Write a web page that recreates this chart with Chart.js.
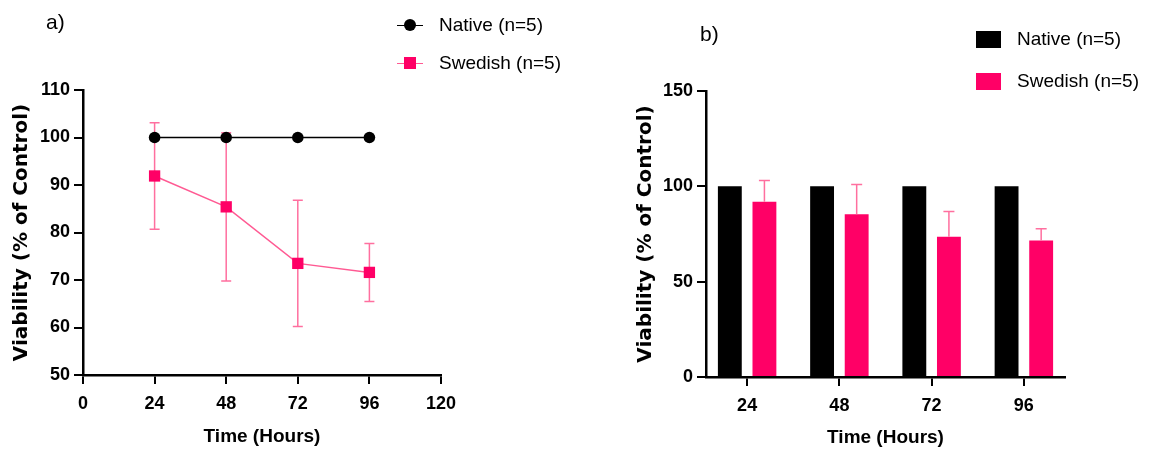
<!DOCTYPE html>
<html>
<head>
<meta charset="utf-8">
<script src="https://cdn.jsdelivr.net/npm/chart.js@4.4.0/dist/chart.umd.min.js"></script>
<style>
  body { margin: 0; background: #fff; }
  #wrap { position: relative; width: 1153px; height: 452px; overflow: hidden;
          font-family: "Liberation Sans", Arial, sans-serif; color: #000; }
  canvas { position: absolute; top: 0; }
  .tag { position: absolute; font-size: 21px; line-height: 24px; }
  .leg { position: absolute; font-size: 19px; line-height: 24px; white-space: nowrap; }
  .ln { position: absolute; height: 0; border-top: 1.5px solid; width: 26px; }
  .dot { position: absolute; width: 12px; height: 12px; border-radius: 50%; background: #000; }
  .sq { position: absolute; width: 12px; height: 12px; background: #ff0066; }
  .box { position: absolute; width: 25px; height: 17px; }
</style>
</head>
<body>
<div id="wrap">
  <canvas id="lineChart" width="580" height="452" style="left:0"></canvas>
  <canvas id="barChart" width="573" height="452" style="left:580px"></canvas>

  <div class="tag" style="left:46px; top:10px">a)</div>
  <div class="tag" style="left:700px; top:22px">b)</div>

  <div class="ln" style="left:397px; top:25px; border-color:#000"></div>
  <div class="dot" style="left:404px; top:19px"></div>
  <div class="leg" style="left:439px; top:13px">Native (n=5)</div>
  <div class="ln" style="left:397px; top:63px; border-color:#ff5a93"></div>
  <div class="sq" style="left:404px; top:57px"></div>
  <div class="leg" style="left:439px; top:51px">Swedish (n=5)</div>

  <div class="box" style="left:976px; top:31px; background:#000"></div>
  <div class="leg" style="left:1017px; top:27px">Native (n=5)</div>
  <div class="box" style="left:976px; top:73px; background:#ff0066"></div>
  <div class="leg" style="left:1017px; top:69px">Swedish (n=5)</div>
</div>

<script>
const hours = [24, 48, 72, 96];
const nativeMean = [100, 100, 100, 100];
const swedishMean = [91.9, 85.4, 73.5, 71.6];
const swedishSD = [11.2, 15.6, 13.3, 6.1];
const lineXTicks = [0, 24, 48, 72, 96, 120];
const lineYTicks = [50, 60, 70, 80, 90, 100, 110];
const barYTicks = [0, 50, 100, 150];

const black = '#000000';
const pink = '#ff0066';
const pinkLine = '#ff5a93';
const pinkErr = '#ff6f9f';

Chart.defaults.font.family = "'Liberation Sans', Arial, sans-serif";
Chart.defaults.color = '#000';

// error bars, drawn with the y scale of the chart
const errorBars = {
  id: 'errorBars',
  beforeDatasetsDraw(chart) {
    if (chart.config.type === 'line') drawErrors(chart);
  },
  afterDatasetsDraw(chart) {
    if (chart.config.type === 'bar') drawErrors(chart);
  }
};

function drawErrors(chart) {
  const ctx = chart.ctx;
  const y = chart.scales.y;
  chart.data.datasets.forEach((ds, di) => {
    if (!ds.errors) return;
    const meta = chart.getDatasetMeta(di);
    ctx.save();
    ctx.strokeStyle = ds.errorColor;
    ctx.lineWidth = 1.5;
    meta.data.forEach((el, i) => {
      const v = ds.data[i].y;
      const e = ds.errors[i];
      const top = y.getPixelForValue(v + e);
      const bot = ds.upOnly ? y.getPixelForValue(v) : y.getPixelForValue(v - e);
      const w = ds.capWidth / 2;
      ctx.beginPath();
      ctx.moveTo(el.x, top);
      ctx.lineTo(el.x, bot);
      ctx.moveTo(el.x - w, top);
      ctx.lineTo(el.x + w, top);
      if (!ds.upOnly) {
        ctx.moveTo(el.x - w, bot);
        ctx.lineTo(el.x + w, bot);
      }
      ctx.stroke();
    });
    ctx.restore();
  });
}

function points(values) {
  return hours.map((h, i) => ({ x: h, y: values[i] }));
}

function axis(min, max, tickValues, size, horizontal, title, titlePad) {
  return {
    type: 'linear',
    min: min,
    max: max,
    offset: false,
    afterBuildTicks: (s) => { s.ticks = tickValues.map(v => ({ value: v })); },
    afterFit: (s) => { if (horizontal) s.height = size; else s.width = size; },
    border: { display: true, color: '#000', width: 2.5 },
    grid: { offset: false, drawOnChartArea: false, drawTicks: true, color: '#000', lineWidth: 2, tickLength: 9 },
    ticks: { font: { size: 18, weight: 'bold' }, padding: horizontal ? 9 : 4, color: '#000' },
    title: {
      display: true,
      text: title,
      color: '#000',
      font: horizontal
        ? { size: 19, weight: 'bold', family: "'Liberation Sans', Arial, sans-serif" }
        : { size: 20, weight: 'bold', family: "'DejaVu Sans', Verdana, sans-serif" },
      padding: titlePad
    }
  };
}

new Chart(document.getElementById('lineChart'), {
  type: 'line',
  data: {
    datasets: [
      {
        label: 'Native (n=5)',
        data: points(nativeMean),
        borderColor: black,
        backgroundColor: black,
        borderWidth: 1.5,
        pointStyle: 'circle',
        pointRadius: 5.8,
        pointBorderWidth: 0
      },
      {
        label: 'Swedish (n=5)',
        data: points(swedishMean),
        borderColor: pinkLine,
        backgroundColor: pink,
        pointBackgroundColor: pink,
        pointBorderColor: pink,
        borderWidth: 1.5,
        pointStyle: 'rect',
        pointRadius: 8,
        pointBorderWidth: 0,
        errors: swedishSD,
        errorColor: pinkErr,
        capWidth: 10,
        upOnly: false
      }
    ]
  },
  options: {
    responsive: false,
    animation: false,
    devicePixelRatio: 1,
    layout: { padding: { top: 90, right: 139, left: 0, bottom: 0 } },
    plugins: { legend: { display: false }, tooltip: { enabled: false } },
    scales: {
      x: axis(0, 120, lineXTicks, 77, true, 'Time (Hours)', { top: 0, bottom: 4 }),
      y: axis(50, 110, lineYTicks, 83, false, 'Viability (% of Control)', { top: 10, bottom: 0 })
    }
  },
  plugins: [errorBars]
});

new Chart(document.getElementById('barChart'), {
  type: 'bar',
  data: {
    datasets: [
      {
        label: 'Native (n=5)',
        data: points(nativeMean),
        backgroundColor: black,
        categoryPercentage: 0.75,
        barPercentage: 0.69
      },
      {
        label: 'Swedish (n=5)',
        data: points(swedishMean),
        backgroundColor: pink,
        categoryPercentage: 0.75,
        barPercentage: 0.69,
        errors: swedishSD,
        errorColor: pinkErr,
        capWidth: 11,
        upOnly: true
      }
    ]
  },
  options: {
    responsive: false,
    animation: false,
    devicePixelRatio: 1,
    layout: { padding: { top: 91, right: 88, left: 44, bottom: 0 } },
    plugins: { legend: { display: false }, tooltip: { enabled: false } },
    scales: {
      x: axis(13.3, 106.7, hours, 75, true, 'Time (Hours)', { top: 0, bottom: 3 }),
      y: axis(0, 150, barYTicks, 82, false, 'Viability (% of Control)', { top: 10, bottom: 0 })
    }
  },
  plugins: [errorBars]
});
</script>
</body>
</html>
